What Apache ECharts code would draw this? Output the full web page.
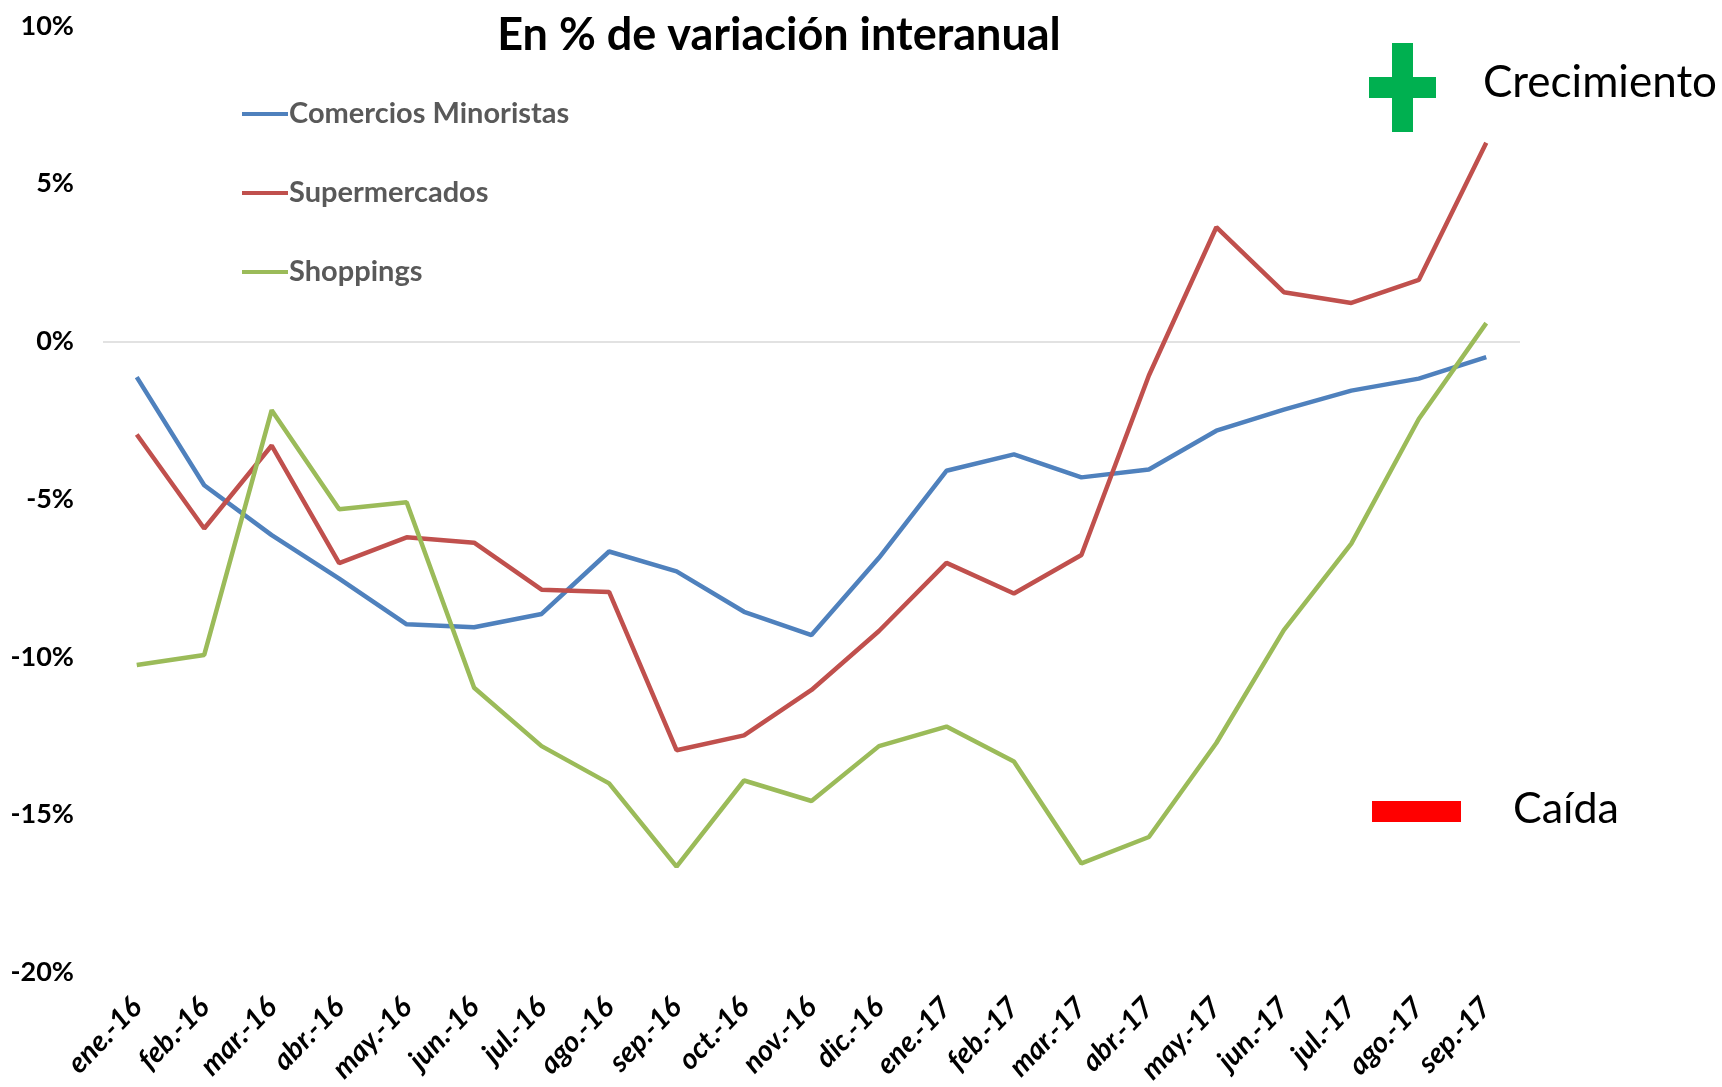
<!DOCTYPE html>
<html>
<head>
<meta charset="utf-8">
<script src="https://cdn.jsdelivr.net/npm/echarts@6/dist/echarts.min.js"></script>
<style>
  html, body { margin: 0; padding: 0; background: #fff; }
  #main { width: 1722px; height: 1087px; }
</style>
</head>
<body>
<div id="main"></div>
<script>
// meses
const months = ['ene.-16', 'feb.-16', 'mar.-16', 'abr.-16', 'may.-16', 'jun.-16', 'jul.-16', 'ago.-16',
  'sep.-16', 'oct.-16', 'nov.-16', 'dic.-16', 'ene.-17', 'feb.-17', 'mar.-17', 'abr.-17',
  'may.-17', 'jun.-17', 'jul.-17', 'ago.-17', 'sep.-17'];

// variacion interanual en %
const minoristas = [-1.13, -4.56, -6.14, -7.52, -8.97, -9.06, -8.64, -6.66, -7.29, -8.57, -9.31,
  -6.86, -4.10, -3.58, -4.31, -4.06, -2.83, -2.16, -1.56, -1.18, -0.50];
const supermercados = [-2.95, -5.93, -3.30, -7.03, -6.21, -6.38, -7.87, -7.94, -12.96, -12.49, -11.05,
  -9.18, -7.02, -7.99, -6.77, -1.08, 3.62, 1.56, 1.22, 1.95, 6.30];
const shoppings = [-10.26, -9.94, -2.18, -5.32, -5.10, -10.98, -12.83, -14.01, -16.65, -13.92, -14.57,
  -12.83, -12.21, -13.32, -16.55, -15.71, -12.73, -9.15, -6.41, -2.46, 0.58];

const seriesNames = ['Comercios Minoristas', 'Supermercados', 'Shoppings'];
const colors = ['#4F81BD', '#C0504D', '#9BBB59'];

const FONT = 'Lato, "Open Sans", sans-serif';

const chart = echarts.init(document.getElementById('main'), null, { renderer: 'canvas' });

function mkLine(name, data, color, withZero) {
  const s = {
    name: name,
    type: 'line',
    data: data,
    symbol: 'none',
    lineStyle: { color: color, width: 4.5 },
    itemStyle: { color: color },
    z: 3
  };
  if (withZero) {
    // linea del 0%
    s.markLine = {
      silent: true,
      symbol: 'none',
      label: { show: false },
      lineStyle: { color: '#D9D9D9', width: 1.5, type: 'solid' },
      data: [{ yAxis: 0 }],
      z: 1
    };
  }
  return s;
}

const option = {
  backgroundColor: '#fff',
  animation: false,
  title: {
    text: 'En % de variación interanual',
    left: 774,
    top: 8,
    textAlign: 'center',
    textStyle: { fontFamily: FONT, fontWeight: 'bold', fontSize: 45, color: '#000' }
  },
  legend: {
    orient: 'vertical',
    left: 237,
    top: 92,
    itemGap: 45,
    itemWidth: 46,
    itemHeight: 4,
    icon: 'rect',
    data: seriesNames,
    textStyle: { fontFamily: FONT, fontWeight: 'bold', fontSize: 29, color: '#595959', lineHeight: 34, padding: [0, 0, 0, -4] }
  },
  grid: { left: 103, right: 202, top: 26, bottom: 110, containLabel: false },
  xAxis: {
    type: 'category',
    data: months,
    boundaryGap: true,
    axisLine: { show: false },
    axisTick: { show: false },
    axisLabel: {
      rotate: 46,
      interval: 0,
      margin: 30,
      fontFamily: FONT,
      fontWeight: 'bold',
      fontStyle: 'italic',
      fontSize: 29,
      color: '#000'
    }
  },
  yAxis: {
    type: 'value',
    min: -20,
    max: 10,
    interval: 5,
    splitLine: { show: false },
    axisLine: { show: false },
    axisTick: { show: false },
    axisLabel: {
      margin: 29,
      fontFamily: FONT,
      fontWeight: 'bold',
      fontSize: 27,
      color: '#000',
      formatter: '{value}%'
    }
  },
  graphic: [
    // signo +
    { type: 'rect', shape: { x: 1392, y: 43, width: 21, height: 89 }, style: { fill: '#00B050' } },
    { type: 'rect', shape: { x: 1369, y: 77, width: 67, height: 21 }, style: { fill: '#00B050' } },
    { type: 'text', style: { text: 'Crecimiento', x: 1483, y: 83, fill: '#000', font: '44px ' + FONT, verticalAlign: 'middle' } },
    // signo -
    { type: 'rect', shape: { x: 1372, y: 801, width: 89, height: 21 }, style: { fill: '#FF0000' } },
    { type: 'text', style: { text: 'Caída', x: 1513, y: 809, fill: '#000', font: '43px ' + FONT, verticalAlign: 'middle' } }
  ],
  series: [
    mkLine(seriesNames[0], minoristas, colors[0], true),
    mkLine(seriesNames[1], supermercados, colors[1], false),
    mkLine(seriesNames[2], shoppings, colors[2], false)
  ]
};

chart.setOption(option);
</script>
</body>
</html>
